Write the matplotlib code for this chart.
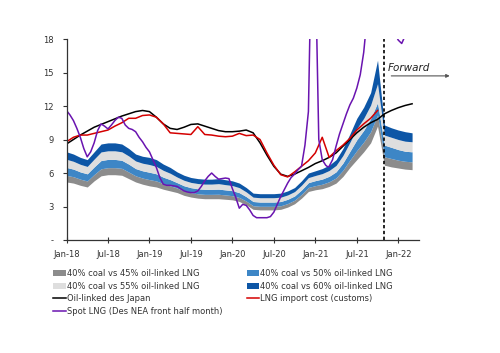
import numpy as np
import matplotlib
matplotlib.use('Agg')
import matplotlib.pyplot as plt

"data, x in months from Jan-18"

months = np.arange(0, 51)

# band edges: bottom of 45% band, then the upper edge of each band
edge0 = [5.2, 5.1, 4.9, 4.75, 5.3, 5.75, 5.85, 5.85, 5.8, 5.5, 5.2, 5.0, 4.85, 4.75, 4.55, 4.4, 4.25,
         4.0, 3.85, 3.75, 3.7, 3.7, 3.7, 3.65, 3.6, 3.45, 3.15, 2.75, 2.7, 2.7, 2.7, 2.75, 2.95, 3.25,
         3.75, 4.35, 4.5, 4.6, 4.8, 5.1, 5.7, 6.5, 7.2, 7.9, 8.7, 10.2, 6.7, 6.55, 6.45, 6.35, 6.3]
edge45 = [5.79, 5.67, 5.45, 5.29, 5.87, 6.38, 6.48, 6.48, 6.42, 6.09, 5.75, 5.55, 5.41, 5.29, 5.05,
          4.86, 4.66, 4.4, 4.24, 4.14, 4.09, 4.09, 4.1, 4.04, 3.97, 3.81, 3.49, 3.07, 3.02, 3.02, 3.02,
          3.07, 3.27, 3.57, 4.09, 4.71, 4.87, 5.0, 5.22, 5.56, 6.25, 7.16, 8.01, 8.78, 9.69, 11.2,
          7.45, 7.3, 7.15, 7.05, 7.0]
edge50 = [6.5, 6.35, 6.1, 5.93, 6.55, 7.12, 7.22, 7.22, 7.14, 6.8, 6.4, 6.2, 6.07, 5.93, 5.63, 5.41,
          5.14, 4.86, 4.69, 4.59, 4.54, 4.54, 4.56, 4.49, 4.42, 4.24, 3.89, 3.45, 3.4, 3.4, 3.4, 3.45,
          3.65, 3.95, 4.49, 5.14, 5.32, 5.46, 5.71, 6.11, 6.9, 7.94, 8.98, 9.82, 10.86, 12.3,
          8.5, 8.3, 8.1, 7.95, 7.9]
edge55 = [7.23, 7.05, 6.78, 6.59, 7.25, 7.89, 7.99, 7.99, 7.9, 7.53, 7.08, 6.88, 6.76, 6.59, 6.24,
          5.98, 5.64, 5.35, 5.16, 5.06, 5.01, 5.01, 5.05, 4.96, 4.88, 4.69, 4.31, 3.84, 3.79, 3.79,
          3.79, 3.84, 4.04, 4.34, 4.91, 5.59, 5.78, 5.95, 6.23, 6.68, 7.58, 8.75, 9.98, 10.9, 12.08,
          14.0, 9.4, 9.2, 9.0, 8.85, 8.8]
edge60 = [7.9, 7.7, 7.4, 7.2, 7.9, 8.6, 8.7, 8.7, 8.6, 8.2, 7.7, 7.5, 7.4, 7.2, 6.8, 6.5, 6.1, 5.8,
          5.6, 5.5, 5.45, 5.45, 5.5, 5.4, 5.3, 5.1, 4.7, 4.2, 4.15, 4.15, 4.15, 4.2, 4.4, 4.7, 5.3,
          6.0, 6.2, 6.4, 6.7, 7.2, 8.2, 9.5, 10.9, 11.9, 13.2, 16.1, 10.3, 10.05, 9.85, 9.7, 9.6]

oil_japan = [8.6, 9.0, 9.4, 9.75, 10.1, 10.35, 10.6, 10.85, 11.1, 11.3, 11.5, 11.6, 11.5, 11.0, 10.4,
             10.0, 9.9, 10.1, 10.35, 10.4, 10.2, 10.0, 9.8, 9.7, 9.7, 9.75, 9.85, 9.6, 8.7, 7.6, 6.6,
             5.9, 5.7, 5.9, 6.2, 6.5, 6.85, 7.1, 7.4, 7.8, 8.4, 9.0, 9.6, 10.1, 10.5, 10.8, 11.3,
             11.6, 11.85, 12.05, 12.2]

lng_import = [8.8, 9.2, 9.4, 9.4, 9.55, 9.7, 9.85, 10.2, 10.5, 10.9, 10.9, 11.15, 11.2, 11.0, 10.4,
              9.6, 9.55, 9.5, 9.45, 10.15, 9.45, 9.4, 9.3, 9.25, 9.3, 9.55, 9.35, 9.4, 9.0, 7.8, 6.7,
              5.85, 5.65, 6.1, 6.6, 7.1, 7.8, 9.2, 7.4, 8.0, 8.5, 9.1, 9.85, 10.4, 10.9, 11.6]

spot_x = [0, 0.5, 1, 1.5, 2, 2.5, 3, 3.5, 4, 4.5, 5, 5.5, 6, 6.5, 7, 7.5, 8, 8.5, 9, 9.5, 10, 10.5,
          11, 11.5, 12, 12.5, 13, 13.5, 14, 14.5, 15, 15.5, 16, 16.5, 17, 17.5, 18, 18.5, 19, 19.5,
          20, 20.5, 21, 21.5, 22, 22.5, 23, 23.5, 24, 24.5, 25, 25.5, 26, 26.5, 27, 27.5, 28, 28.5,
          29, 29.5, 30, 30.5, 31, 31.5, 32, 32.5, 33, 33.5, 34, 34.5, 35, 35.5, 36, 36.5, 37, 37.5,
          37.8, 38, 38.5, 39, 39.5, 40, 40.5, 41, 41.5, 42, 42.5, 43, 43.5, 44, 44.5, 45, 45.5, 46,
          46.5, 47, 47.5, 48, 48.5, 49, 49.5]
spot_lng = [11.6, 11.2, 10.7, 10.0, 9.2, 8.2, 7.45, 7.9, 8.7, 9.8, 10.4, 10.2, 9.95, 10.3, 10.7, 11.0,
            10.9, 10.3, 10.0, 9.9, 9.7, 9.2, 8.8, 8.3, 7.9, 7.2, 6.5, 5.6, 5.0, 4.9, 4.9, 4.85, 4.8,
            4.6, 4.4, 4.3, 4.25, 4.25, 4.4, 4.8, 5.3, 5.7, 6.0, 5.7, 5.45, 5.5, 5.55, 5.5, 4.6, 3.8,
            2.85, 3.2, 3.1, 2.7, 2.2, 2.0, 2.0, 2.0, 2.0, 2.1, 2.5, 3.2, 3.9, 4.5, 5.1, 5.6, 5.9, 6.3,
            6.6, 8.5, 11.5, 28, 25, 9.0, 7.2, 6.7, 6.55, 6.6, 7.2, 8.4, 9.5, 10.4, 11.3, 12.1, 12.7,
            13.6, 14.8, 16.8, 20, 24, 27, 30, 30, 28, 25, 21, 18.5, 17.9, 17.6, 18.3, 20]

tick_pos = [0, 6, 12, 18, 24, 30, 36, 42, 48]
tick_lab = ['Jan-18', 'Jul-18', 'Jan-19', 'Jul-19', 'Jan-20', 'Jul-20', 'Jan-21', 'Jul-21', 'Jan-22']
forward_start = 46

"plot"

fig = plt.figure(figsize=(5, 3.53), dpi=100)
ax = fig.add_axes([0.133, 0.32, 0.705, 0.5695])

b45 = ax.fill_between(months, edge0, edge45, color='#8c8c8c', lw=0)
b50 = ax.fill_between(months, edge45, edge50, color='#3d86c6', lw=0)
b55 = ax.fill_between(months, edge50, edge55, color='#dedede', lw=0)
b60 = ax.fill_between(months, edge55, edge60, color='#0d56a6', lw=0)

l_oil, = ax.plot(months, oil_japan, color='black', lw=1.1)
l_imp, = ax.plot(months[:len(lng_import)], lng_import, color='#d40000', lw=1.1)
l_spot, = ax.plot(spot_x, spot_lng, color='#6a14b0', lw=1.1)

ax.axvline(forward_start, color='black', lw=1.2, ls=(0, (2, 1.5)))

ax.set_xlim(0, 51)
ax.set_ylim(0, 18)
ax.set_yticks([0, 3, 6, 9, 12, 15, 18])
ax.set_yticklabels(['-', '3', '6', '9', '12', '15', '18'])
ax.set_xticks(tick_pos)
ax.set_xticklabels(tick_lab)
ax.tick_params(axis='both', labelsize=6, colors='#333333', width=0.8)
ax.tick_params(axis='x', direction='inout', length=4, pad=5)
ax.tick_params(axis='y', direction='out', length=3, pad=6)
for s in ['top', 'right']:
    ax.spines[s].set_visible(False)
for s in ['left', 'bottom']:
    ax.spines[s].set_color('#333333')
    ax.spines[s].set_linewidth(0.9)

fig.text(0.776, 0.807, 'Forward', fontsize=7.5, style='italic', color='#222222', va='center', ha='left')
ax.annotate('', xy=(0.905, 0.785), xytext=(0.777, 0.785), xycoords='figure fraction',
            textcoords='figure fraction',
            arrowprops=dict(arrowstyle='-|>', color='#555555', lw=0.8, mutation_scale=5),
            annotation_clip=False)

# legend is filled column-wise: left column gets the first four entries
hh = [b45, b55, l_oil, l_spot, b50, b60, l_imp]
ll = ['40% coal vs 45% oil-linked LNG', '40% coal vs 55% oil-linked LNG', 'Oil-linked des Japan',
      'Spot LNG (Des NEA front half month)', '40% coal vs 50% oil-linked LNG',
      '40% coal vs 60% oil-linked LNG', 'LNG import cost (customs)']
leg = fig.legend(hh, ll, ncol=2, loc='upper left', bbox_to_anchor=(0.1, 0.248), frameon=False,
                 fontsize=6, handlelength=1.5, handletextpad=0.15, columnspacing=2.9,
                 labelspacing=0.45, borderaxespad=0)
for t in leg.get_texts():
    t.set_color('#333333')

plt.savefig('out.png', dpi=100)
